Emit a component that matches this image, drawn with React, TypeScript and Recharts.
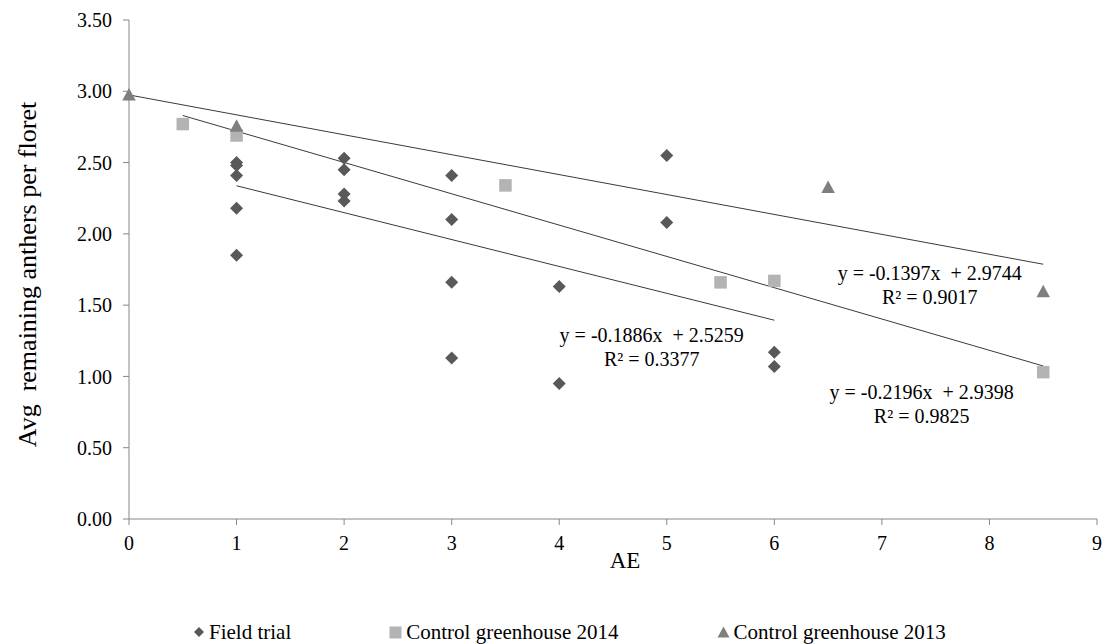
import React from "react";
import {
  ScatterChart,
  Scatter,
  XAxis,
  YAxis,
  Legend,
  Label,
  ReferenceDot,
} from "recharts";

// AE stage vs. remaining anthers per floret, three trials
const fieldX = [1, 1, 1, 1, 1, 2, 2, 2, 2, 3, 3, 3, 3, 4, 4, 5, 5, 6, 6];
const fieldY = [
  2.5, 2.48, 2.41, 2.18, 1.85, 2.53, 2.45, 2.28, 2.23, 2.41, 2.1, 1.66, 1.13,
  1.63, 0.95, 2.55, 2.08, 1.17, 1.07,
];
const gh2014X = [0.5, 1, 3.5, 5.5, 6, 8.5];
const gh2014Y = [2.77, 2.69, 2.34, 1.66, 1.67, 1.03];
const gh2013X = [0, 1, 6.5, 8.5];
const gh2013Y = [2.98, 2.76, 2.33, 1.6];

// Linear fits: slope, intercept, R², x-range of the drawn trendline
const fieldFit = { slope: -0.1886, intercept: 2.5259, r2: "0.3377", from: 1, to: 6 };
const gh2014Fit = { slope: -0.2196, intercept: 2.9398, r2: "0.9825", from: 0.5, to: 8.5 };
const gh2013Fit = { slope: -0.1397, intercept: 2.9744, r2: "0.9017", from: 0, to: 8.5 };

// Where each equation block is anchored (data units)
const fieldEqPos = { x: 4.86, y: 1.29 };
const gh2014EqPos = { x: 7.37, y: 0.89 };
const gh2013EqPos = { x: 7.445, y: 1.725 };

const xTicks = [0, 1, 2, 3, 4, 5, 6, 7, 8, 9];
const yTicks = [0, 0.5, 1, 1.5, 2, 2.5, 3, 3.5];

const seriesNames = ["Field trial", "Control greenhouse 2014", "Control greenhouse 2013"];

const FONT = "'Liberation Serif', 'Times New Roman', serif";
const DIAMOND = "#595959";
const SQUARE = "#b3b3b3";
const TRIANGLE = "#7f7f7f";
const AXIS = "#868686";
const TREND = "#3a3a3a";

const zip = (xs: number[], ys: number[]) => xs.map((x, i) => ({ x, y: ys[i] }));

const fieldData = zip(fieldX, fieldY);
const gh2014Data = zip(gh2014X, gh2014Y);
const gh2013Data = zip(gh2013X, gh2013Y);

type Fit = { slope: number; intercept: number; r2: string; from: number; to: number };
const trend = (f: Fit) => [
  { x: f.from, y: f.slope * f.from + f.intercept },
  { x: f.to, y: f.slope * f.to + f.intercept },
];
const equation = (f: Fit) =>
  `y = ${f.slope.toFixed(4)}x  + ${f.intercept.toFixed(4)}`;

const DiamondShape = (p: any) => {
  const { cx, cy } = p;
  const r = 6.5;
  return (
    <polygon
      points={`${cx},${cy - r} ${cx + r},${cy} ${cx},${cy + r} ${cx - r},${cy}`}
      fill={DIAMOND}
    />
  );
};

const SquareShape = (p: any) => {
  const { cx, cy } = p;
  const s = 12.5;
  return <rect x={cx - s / 2} y={cy - s / 2} width={s} height={s} fill={SQUARE} />;
};

const TriangleShape = (p: any) => {
  const { cx, cy } = p;
  const w = 13.5;
  const h = 12.5;
  return (
    <polygon
      points={`${cx},${cy - h / 2} ${cx + w / 2},${cy + h / 2} ${cx - w / 2},${cy + h / 2}`}
      fill={TRIANGLE}
    />
  );
};

const NoShape = () => <g />;

const XTick = (p: any) => {
  const { x, y, payload } = p;
  return (
    <text
      x={x}
      y={y}
      dy="0.71em"
      textAnchor="middle"
      fontFamily={FONT}
      fontSize={20}
      fill="#000"
    >
      {payload.value}
    </text>
  );
};

const YTick = (p: any) => {
  const { x, y, payload } = p;
  return (
    <text
      x={x}
      y={y}
      dy="0.355em"
      textAnchor="end"
      fontFamily={FONT}
      fontSize={20}
      fill="#000"
    >
      {Number(payload.value).toFixed(2)}
    </text>
  );
};

const equationLabel = (f: Fit) => (props: any) => {
  const vb = props.viewBox || {};
  const cx = (vb.x ?? 0) + (vb.width ?? 0) / 2;
  const cy = (vb.y ?? 0) + (vb.height ?? 0) / 2;
  return (
    <g>
      <text
        x={cx}
        y={cy}
        textAnchor="middle"
        dominantBaseline="central"
        fontFamily={FONT}
        fontSize={20}
        fill="#000"
        style={{ whiteSpace: "pre" }}
      >
        {equation(f)}
      </text>
      <text
        x={cx}
        y={cy + 24}
        textAnchor="middle"
        dominantBaseline="central"
        fontFamily={FONT}
        fontSize={20}
        fill="#000"
      >
        {`R² = ${f.r2}`}
      </text>
    </g>
  );
};

const LegendMarker = ({ kind }: { kind: number }) => {
  if (kind === 0)
    return (
      <svg width={12} height={12} style={{ marginRight: 4 }}>
        <polygon points="6,1 11,6 6,11 1,6" fill={DIAMOND} />
      </svg>
    );
  if (kind === 1)
    return (
      <svg width={13} height={13} style={{ marginRight: 4 }}>
        <rect x={0.5} y={0.5} width={12} height={12} fill={SQUARE} />
      </svg>
    );
  return (
    <svg width={13} height={12} style={{ marginRight: 4 }}>
      <polygon points="6.5,0.5 12.5,11.5 0.5,11.5" fill={TRIANGLE} />
    </svg>
  );
};

const renderLegend = () => (
  <div
    style={{
      display: "flex",
      alignItems: "center",
      gap: 98,
      fontFamily: FONT,
      fontSize: 21,
      color: "#000",
      paddingLeft: 193,
      height: 28,
      lineHeight: "28px",
    }}
  >
    {seriesNames.map((n, i) => (
      <div
        key={n}
        style={{ display: "flex", alignItems: "center", whiteSpace: "nowrap", fontFamily: FONT }}
      >
        <LegendMarker kind={i} />
        <span style={{ fontFamily: FONT }}>{n}</span>
      </div>
    ))}
  </div>
);

const YTitle = (props: any) => {
  const vb = props.viewBox || {};
  const x = 27;
  const y = (vb.y ?? 20) + (vb.height ?? 499) / 2 + 5;
  return (
    <text
      x={x}
      y={y}
      transform={`rotate(-90, ${x}, ${y})`}
      textAnchor="middle"
      dominantBaseline="central"
      fontFamily={FONT}
      fontSize={26}
      fill="#000"
      style={{ whiteSpace: "pre" }}
    >
      {"Avg  remaining anthers per floret"}
    </text>
  );
};

const XTitle = (props: any) => {
  const vb = props.viewBox || {};
  const x = (vb.x ?? 129) + (vb.width ?? 968) / 2 + 12;
  const y = (vb.y ?? 519) + 41;
  return (
    <text
      x={x}
      y={y}
      textAnchor="middle"
      dominantBaseline="central"
      fontFamily={FONT}
      fontSize={23}
      fill="#000"
    >
      AE
    </text>
  );
};

export default function App() {
  return (
    <div
      style={{ position: "absolute", left: 0, top: 0, background: "#fff", fontFamily: FONT }}
    >
      <ScatterChart
        width={1104}
        height={644}
        margin={{ top: 20, right: 7, left: 0, bottom: 0 }}
        style={{ fontFamily: FONT }}
      >
        <XAxis
          type="number"
          dataKey="x"
          domain={[0, 9]}
          ticks={xTicks}
          interval={0}
          height={125}
          axisLine={{ stroke: AXIS }}
          tickLine={{ stroke: AXIS }}
          tickSize={6}
          tickMargin={11}
          tick={XTick}
        >
          <Label content={XTitle} />
        </XAxis>
        <YAxis
          type="number"
          dataKey="y"
          domain={[0, 3.5]}
          ticks={yTicks}
          interval={0}
          width={129}
          axisLine={{ stroke: AXIS }}
          tickLine={{ stroke: AXIS }}
          tickSize={6}
          tickMargin={11}
          tick={YTick}
        >
          <Label content={YTitle} />
        </YAxis>
        <Legend
          verticalAlign="middle"
          align="center"
          layout="horizontal"
          content={renderLegend}
          wrapperStyle={{ position: "absolute", top: 618, left: 0, width: 1104, height: 28 }}
        />

        {/* trendlines */}
        <Scatter
          data={trend(gh2013Fit)}
          line={{ stroke: TREND, strokeWidth: 1 }}
          shape={NoShape}
          legendType="none"
          isAnimationActive={false}
        />
        <Scatter
          data={trend(gh2014Fit)}
          line={{ stroke: TREND, strokeWidth: 1 }}
          shape={NoShape}
          legendType="none"
          isAnimationActive={false}
        />
        <Scatter
          data={trend(fieldFit)}
          line={{ stroke: TREND, strokeWidth: 1 }}
          shape={NoShape}
          legendType="none"
          isAnimationActive={false}
        />

        {/* observations */}
        <Scatter
          name={seriesNames[0]}
          data={fieldData}
          shape={DiamondShape}
          isAnimationActive={false}
        />
        <Scatter
          name={seriesNames[1]}
          data={gh2014Data}
          shape={SquareShape}
          isAnimationActive={false}
        />
        <Scatter
          name={seriesNames[2]}
          data={gh2013Data}
          shape={TriangleShape}
          isAnimationActive={false}
        />

        {/* fit equations */}
        <ReferenceDot
          x={fieldEqPos.x}
          y={fieldEqPos.y}
          r={0}
          fill="none"
          stroke="none"
          label={{ content: equationLabel(fieldFit) }}
        />
        <ReferenceDot
          x={gh2014EqPos.x}
          y={gh2014EqPos.y}
          r={0}
          fill="none"
          stroke="none"
          label={{ content: equationLabel(gh2014Fit) }}
        />
        <ReferenceDot
          x={gh2013EqPos.x}
          y={gh2013EqPos.y}
          r={0}
          fill="none"
          stroke="none"
          label={{ content: equationLabel(gh2013Fit) }}
        />
      </ScatterChart>
    </div>
  );
}
